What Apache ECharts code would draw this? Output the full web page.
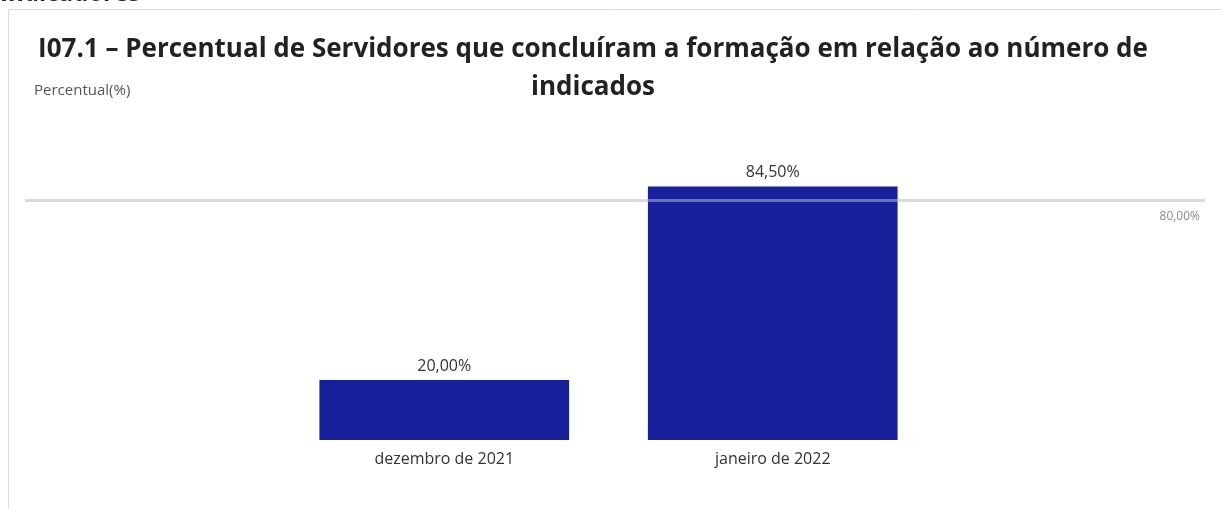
<!DOCTYPE html>
<html><head><meta charset="utf-8">
<script src="https://cdn.jsdelivr.net/npm/echarts@6/dist/echarts.min.js"></script>
<style>html,body{margin:0;padding:0;background:#fff}#c{width:1221px;height:509px}</style>
</head><body><div id="c"></div>
<script>
const categories = ['dezembro de 2021', 'janeiro de 2022'];
const values = [20.0, 84.5];
const targetValue = 80.0;
const yMax = 100;

function fmt(v){ return v.toFixed(2).replace('.', ',') + '%'; }

const chart = echarts.init(document.getElementById('c'), null, {renderer:'canvas'});
chart.setOption({
  animation:false,
  backgroundColor:'#fff',
  title:{
    text:'I07.1 – Percentual de Servidores que concluíram a formação em relação ao número de\nindicados',
    left:588, top:26, textAlign:'center',
    textStyle:{fontFamily:'Open Sans', fontWeight:'bold', fontSize:26, color:'#222', lineHeight:38}
  },
  graphic:[
    {type:'rect', shape:{x:8.5,y:9.5,width:1300,height:600}, style:{fill:'none', stroke:'#dcdcdc', lineWidth:1}, silent:true},
    {type:'text', left:0, top:-18, style:{text:'Indicadores', font:'bold 24px "Open Sans"', fill:'#222'}},
    {type:'text', left:34, top:83, style:{text:'Percentual(%)', font:'15px "Open Sans"', fill:'#555'}}
  ],
  grid:[
    {left:280, right:284, top:140, bottom:69},
    {left:25, right:16, top:140, bottom:69}
  ],
  xAxis:[
    {type:'category', gridIndex:0, data:categories,
     axisLine:{show:false}, axisTick:{show:false},
     axisLabel:{fontFamily:'Open Sans', fontSize:16, color:'#333', margin:11}},
    {type:'category', gridIndex:1, data:[''], show:false}
  ],
  yAxis:[
    {type:'value', gridIndex:0, min:0, max:yMax, show:false},
    {type:'value', gridIndex:1, min:0, max:yMax, show:false}
  ],
  series:[
    {type:'bar', xAxisIndex:0, yAxisIndex:0, data:values, barWidth:'76%',
     itemStyle:{color:'#16209a'},
     label:{show:true, position:'top', distance:6, formatter:p=>fmt(p.value),
            fontFamily:'Open Sans', fontSize:16, color:'#333'}},
    {type:'line', xAxisIndex:1, yAxisIndex:1, data:[], z:10,
     markLine:{symbol:'none', silent:true,
       lineStyle:{color:'rgba(185,185,195,0.55)', width:3, type:'solid'},
       label:{show:true, position:'insideEndBottom', formatter:fmt(targetValue),
              fontFamily:'Open Sans', fontSize:12, color:'#888', distance:[5,11]},
       data:[{yAxis:targetValue}]}}
  ]
});
</script></body></html>
